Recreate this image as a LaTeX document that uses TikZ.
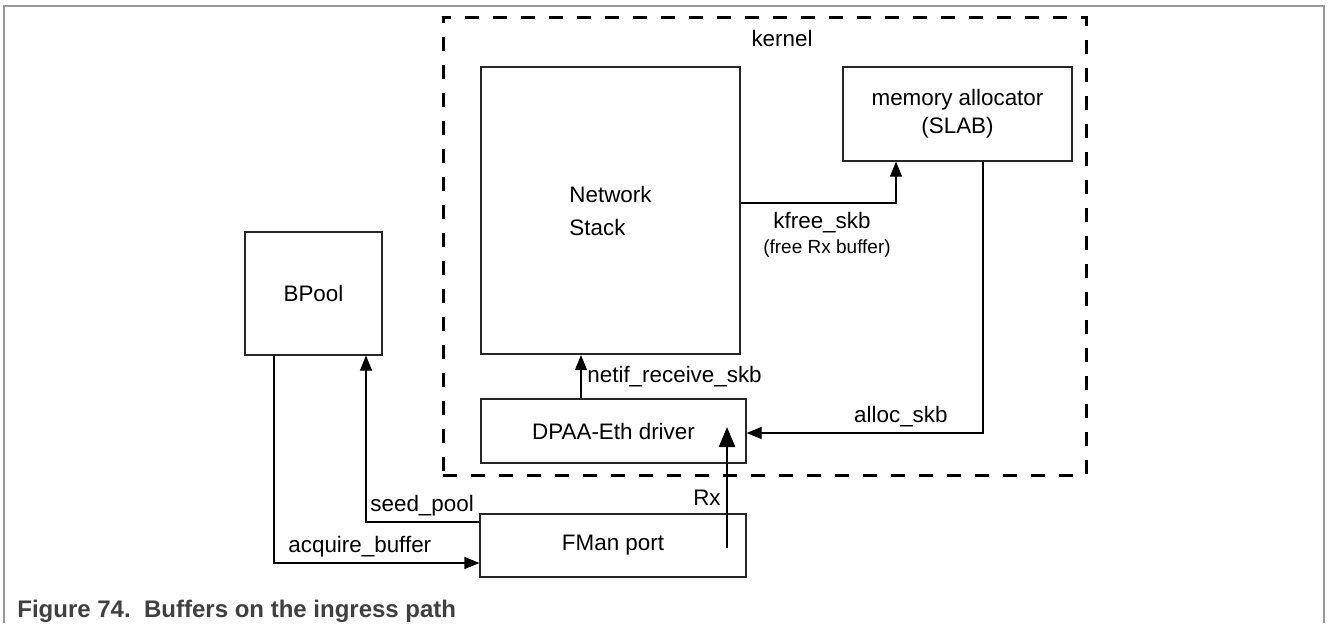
\documentclass[tikz,border=0pt]{standalone}
\usepackage{fontspec}
\setmainfont{Liberation Sans}
\usetikzlibrary{arrows.meta}

\tikzset{
  blk/.style={draw=black!85, line width=0.6pt, inner sep=0pt,
    font=\fontsize{11.2}{14}\selectfont},
  lbl/.style={inner sep=0pt, font=\fontsize{11.2}{13}\selectfont},
  conn/.style={line width=0.6pt, -{Triangle[length=7.5pt,width=6pt]}},
}

\begin{document}
\begin{tikzpicture}[x=0.5pt,y=-0.5pt]
\useasboundingbox (0,0) rectangle (1328,623);

% Cadre
\draw[black!40, line width=0.6pt]
(4,623) -- (4,6) -- (1324,6) -- (1324,623);

% Kernel
\node[draw, line width=1.5pt, dash pattern=on 7pt off 7pt,
  minimum width=321.5pt, minimum height=229pt, inner sep=0pt]
  (kernelbox) at (764.5,246) {};
\node[lbl] (kernel) at (782,38) {kernel};

% Blocs
\node[blk, line width=1.1pt, minimum width=129.5pt, minimum height=143.5pt,
  align=left, font=\fontsize{11.2}{16.5}\selectfont]
  (stack) at (610.5,210.5) {Network\\Stack};
\node[blk, minimum width=114.5pt, minimum height=47pt, align=center]
  (mem) at (957.5,114) {memory allocator\\(SLAB)};
\node[blk, minimum width=68.5pt, minimum height=61.5pt]
  (bpool) at (313.5,293.5) {BPool};
\node[blk, minimum width=132.5pt, minimum height=32pt]
  (driver) at (613.5,431) {DPAA-Eth driver};
\node[blk, minimum width=133pt, minimum height=31.5pt]
  (fman) at (613,545.5) {FMan port};

% Points de passage
\coordinate (netifx) at (581,0);
\coordinate (kfreept) at (896,203);
\coordinate (allocpt) at (983,433);
\coordinate (rxpt) at (727,0);
\coordinate (seedpt) at (366,522);
\coordinate (acqpt) at (274,563);

% Liaisons
\draw[conn] (driver.north -| netifx) -- (stack.south -| netifx);
\draw[conn] (stack.east |- kfreept) -| (mem.south -| kfreept);
\draw[conn] (mem.south -| allocpt) |- (driver.east |- allocpt);
\draw[line width=1.2pt, -{Triangle[length=10pt,width=8pt]}]
  ([yshift=-1.25pt]fman.center -| rxpt) -- ([yshift=2pt]driver.center -| rxpt);
\draw[conn] (fman.west |- seedpt) -| (bpool.south -| seedpt);
\draw[conn] (bpool.south -| acqpt) |- (fman.west |- acqpt);

% Légendes
\node[lbl, anchor=west] (netiflbl) at (587,377) {netif\_receive\_skb};
\node[lbl] (kfreelbl) at (822,223) {kfree\_skb};
\node[lbl, font=\fontsize{9.5}{11}\selectfont]
  (kfreenote) at (827,249) {(free Rx buffer)};
\node[lbl, anchor=east] (alloclbl) at (948,417) {alloc\_skb};
\node[lbl] (rxlbl) at (707,498) {Rx};
\node[lbl, anchor=west] (seedlbl) at (370,506) {seed\_pool};
\node[lbl, anchor=west] (acqlbl) at (288,547) {acquire\_buffer};

% Titre
\node[anchor=west, inner sep=0pt, text=black!75,
  font=\bfseries\fontsize{12}{14}\selectfont]
  (caption) at (17,611) {Figure 74.\ \ Buffers on the ingress path};

\end{tikzpicture}
\end{document}
